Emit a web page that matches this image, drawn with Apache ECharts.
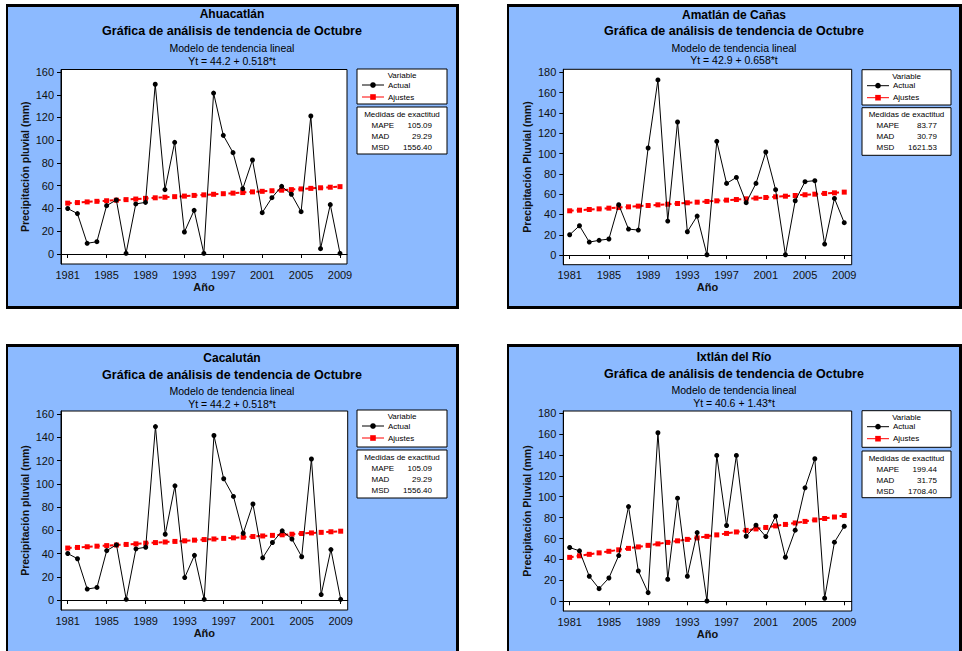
<!DOCTYPE html>
<html><head><meta charset="utf-8">
<script src="https://cdn.jsdelivr.net/npm/echarts@6/dist/echarts.min.js"></script>
<style>
html,body{margin:0;padding:0;background:#fff;width:962px;height:651px;overflow:hidden}
.panel{position:absolute;background:#8CBAFF;border-style:solid;border-color:#000;border-width:3px 3px 3px 2px;box-sizing:border-box}
#chart{position:absolute;left:0;top:0;width:962px;height:651px}
</style></head><body>
<div class="panel" style="left:6px;top:4px;width:453px;height:305px"></div>
<div class="panel" style="left:507px;top:4px;width:455px;height:305px"></div>
<div class="panel" style="left:6px;top:344px;width:453px;height:330px"></div>
<div class="panel" style="left:507px;top:344px;width:455px;height:330px"></div>
<div id="chart"></div>
<script>
// ---------- data ----------
const years = [1981,1982,1983,1984,1985,1986,1987,1988,1989,1990,1991,1992,1993,1994,1995,1996,1997,1998,1999,2000,2001,2002,2003,2004,2005,2006,2007,2008,2009];
const xTickYears = [1981,1985,1989,1993,1997,2001,2005,2009];
const yTicks160 = [0,20,40,60,80,100,120,140,160];
const yTicks180 = [0,20,40,60,80,100,120,140,160,180];

const stations = ['Ahuacatlán','Amatlán de Cañas','Cacalután','Ixtlán del Río'];
const mainTitle = 'Gráfica de análisis de tendencia de Octubre';
const modelTitle = 'Modelo de tendencia lineal';
const equations = ['Yt = 44.2 + 0.518*t','Yt = 42.9 + 0.658*t','Yt = 44.2 + 0.518*t','Yt = 40.6 + 1.43*t'];
const yAxisTitles = ['Precipitación pluvial (mm)','Precipitación Pluvial (mm)','Precipitación pluvial (mm)','Precipitación Pluvial (mm)'];
const xAxisTitle = 'Año';
const seriesNames = ['Actual','Ajustes'];
const legendTitle = 'Variable';
const measuresTitle = 'Medidas de exactitud';
const measureLabels = ['MAPE','MAD','MSD'];

const actualAhuacatlan = [40,35.5,9.4,10.8,42.5,47.5,0.6,44,45.4,149.2,56.6,98.2,19.3,38.4,0.6,141.5,104.3,89.1,57.4,82.6,36.3,49.5,59.5,52.5,37.2,121.3,4.7,43.4,0.6];
const fitAhuacatlan = [44.7,45.2,45.8,46.3,46.8,47.3,47.8,48.3,48.9,49.4,49.9,50.4,50.9,51.5,52.0,52.5,53.0,53.5,54.0,54.6,55.1,55.6,56.1,56.6,57.2,57.7,58.2,58.7,59.2];

const actualAmatlan = [20,28.9,12.8,14.5,15.8,49.6,25.6,24.6,105.5,172.5,33.5,131.1,23,38.4,0.3,112,70.6,76.5,51.6,70.6,101.5,64.4,0.3,53.5,72.3,73.3,10.8,55.8,31.9];
const fitAmatlan = [43.6,44.2,44.9,45.5,46.2,46.8,47.5,48.2,48.8,49.5,50.1,50.8,51.5,52.1,52.8,53.4,54.1,54.7,55.4,56.1,56.7,57.4,58.0,58.7,59.4,60.0,60.7,61.3,62.0];

const actualCacalutan = [40,35.5,9.4,10.8,42.5,47.5,0.6,44,45.4,149.2,56.6,98.2,19.3,38.4,0.6,141.5,104.3,89.1,57.4,82.6,36.3,49.5,59.5,52.5,37.2,121.3,4.7,43.4,0.6];
const fitCacalutan = [44.7,45.2,45.8,46.3,46.8,47.3,47.8,48.3,48.9,49.4,49.9,50.4,50.9,51.5,52.0,52.5,53.0,53.5,54.0,54.6,55.1,55.6,56.1,56.6,57.2,57.7,58.2,58.7,59.2];

const actualIxtlan = [51.4,48.2,23.9,12.1,22.3,43.7,90.6,29,8.3,161.2,21.1,98.6,23.9,65.7,0.3,139.5,72.5,139.5,62.2,72.8,61.9,81.4,42.1,68,108.5,136.3,2.9,56.5,71.8];
const fitIxtlan = [42.0,43.5,44.9,46.3,47.8,49.2,50.6,52.0,53.5,54.9,56.3,57.8,59.2,60.6,62.1,63.5,64.9,66.3,67.8,69.2,70.6,72.1,73.5,74.9,76.4,77.8,79.2,80.6,82.1];

const mapeValues = ['105.09','83.77','105.09','199.44'];
const madValues = ['29.29','30.79','29.29','31.75'];
const msdValues = ['1556.40','1621.53','1556.40','1708.40'];

const actualSets = [actualAhuacatlan, actualAmatlan, actualCacalutan, actualIxtlan];
const fitSets = [fitAhuacatlan, fitAmatlan, fitCacalutan, fitIxtlan];
const yTickSets = [yTicks160, yTicks180, yTicks160, yTicks180];

// ---------- layout (page pixels) ----------
const layout = [
  {grid:{left:61,top:69.5,width:286,height:194.5}, y:[-8.8,162.2], x:[1980.31,2009.72], cx:232, ty:[14,31,47.5,61], box:{x:357,y:69,w:90,h:35}, mbox:{y:107,h:47}},
  {grid:{left:563.3,top:69.3,width:288.4,height:195.4}, y:[-9.5,183], x:[1980.35,2009.76], cx:734, ty:[14.5,31,48,60], box:{x:862,y:69.7,w:89,h:35.3}, mbox:{y:107.7,h:47.6}},
  {grid:{left:61,top:411,width:286.7,height:199}, y:[-8.6,162.6], x:[1980.31,2009.72], cx:232, ty:[357.5,375,390.5,404], box:{x:357,y:410,w:90,h:37}, mbox:{y:450,h:48}},
  {grid:{left:563.3,top:411,width:288.4,height:200}, y:[-9.3,182], x:[1980.35,2009.76], cx:734, ty:[357,374,389.5,403], box:{x:862,y:410.7,w:89,h:36.6}, mbox:{y:451,h:46.7}}
];

const FONT = '"Liberation Sans", Arial, sans-serif';
const grids = [], xAxes = [], yAxes = [], series = [], legends = [], graphics = [];

layout.forEach((L, i) => {
  grids.push(Object.assign({show:true, backgroundColor:'#fff', borderColor:'#000', borderWidth:1}, L.grid));
  xAxes.push({
    type:'value', gridIndex:i, min:L.x[0], max:L.x[1],
    name:xAxisTitle, nameLocation:'middle', nameGap:17,
    nameTextStyle:{fontFamily:FONT, fontWeight:'bold', fontSize:11, color:'#111'},
    axisLine:{show:true, lineStyle:{color:'#000'}},
    axisTick:{show:true, inside:false, length:4, customValues:xTickYears, lineStyle:{color:'#000'}},
    axisLabel:{customValues:xTickYears, margin:5, fontFamily:FONT, fontSize:11, color:'#111', formatter:v => String(v)},
    splitLine:{show:false}
  });
  yAxes.push({
    type:'value', gridIndex:i, min:L.y[0], max:L.y[1],
    name:yAxisTitles[i], nameLocation:'middle', nameGap:31,
    nameTextStyle:{fontFamily:FONT, fontWeight:'bold', fontSize:10.5, color:'#111'},
    axisLine:{show:true, lineStyle:{color:'#000'}},
    axisTick:{show:true, inside:false, length:4, customValues:yTickSets[i], lineStyle:{color:'#000'}},
    axisLabel:{customValues:yTickSets[i], margin:7, fontFamily:FONT, fontSize:11, color:'#111', formatter:v => String(v)},
    splitLine:{show:false}
  });
  series.push({
    name:seriesNames[0], type:'line', xAxisIndex:i, yAxisIndex:i,
    data:years.map((yr, k) => [yr, actualSets[i][k]]),
    symbol:'circle', symbolSize:5, itemStyle:{color:'#000'},
    lineStyle:{color:'#000', width:1}, z:3
  });
  series.push({
    name:seriesNames[1], type:'line', xAxisIndex:i, yAxisIndex:i,
    data:years.map((yr, k) => [yr, fitSets[i][k]]),
    symbol:'rect', symbolSize:5, itemStyle:{color:'#ff0000'},
    lineStyle:{color:'#ff0000', width:2, type:[4,3]}, z:2
  });
  legends.push({
    data:[
      {name:seriesNames[0], lineStyle:{type:'solid', width:1, color:'#000'}},
      {name:seriesNames[1], lineStyle:{type:'solid', width:1, color:'#ff0000'}}
    ],
    orient:'vertical', left:L.box.x + 4.5, top:L.box.y + 12,
    itemWidth:22, itemHeight:7, itemGap:4, padding:0, selectedMode:false,
    textStyle:{fontFamily:FONT, fontSize:8, color:'#000', padding:[0,0,0,-1]}
  });
  // titles
  const tstyle = (txt, y, size, weight) => ({
    type:'text', x:L.cx, y:y, z:10,
    style:{text:txt, fontFamily:FONT, fontSize:size, fontWeight:weight, fill:'#000', align:'center', verticalAlign:'middle'}
  });
  graphics.push(tstyle(stations[i], L.ty[0], 12, 'bold'));
  graphics.push(tstyle(mainTitle, L.ty[1], 12.5, 'bold'));
  graphics.push(tstyle(modelTitle, L.ty[2], 10.5, 'normal'));
  graphics.push(tstyle(equations[i], L.ty[3], 10.5, 'normal'));
  // legend box
  graphics.push({type:'rect', z:1, shape:{x:L.box.x, y:L.box.y, width:L.box.w, height:L.box.h},
    style:{fill:'#fff', stroke:'#000', lineWidth:1}});
  graphics.push({type:'text', z:10, x:L.box.x + L.box.w/2, y:L.box.y + 6.5,
    style:{text:legendTitle, fontFamily:FONT, fontSize:8, fill:'#000', align:'center', verticalAlign:'middle'}});
  // measures box
  graphics.push({type:'rect', z:1, shape:{x:L.box.x, y:L.mbox.y, width:L.box.w, height:L.mbox.h},
    style:{fill:'#fff', stroke:'#000', lineWidth:1}});
  graphics.push({type:'text', z:10, x:L.box.x + L.box.w/2, y:L.mbox.y + 7,
    style:{text:measuresTitle, fontFamily:FONT, fontSize:8, fill:'#000', align:'center', verticalAlign:'middle'}});
  const vals = [mapeValues[i], madValues[i], msdValues[i]];
  measureLabels.forEach((lab, r) => {
    const yy = L.mbox.y + 18 + r * 11;
    graphics.push({type:'text', z:10, x:L.box.x + 14.5, y:yy,
      style:{text:lab, fontFamily:FONT, fontSize:8, fill:'#000', align:'left', verticalAlign:'middle'}});
    graphics.push({type:'text', z:10, x:L.box.x + 75, y:yy,
      style:{text:vals[r], fontFamily:FONT, fontSize:8, fill:'#000', align:'right', verticalAlign:'middle'}});
  });
});

const chart = echarts.init(document.getElementById('chart'), null, {renderer:'svg'});
chart.setOption({
  animation:false,
  backgroundColor:'transparent',
  grid:grids, xAxis:xAxes, yAxis:yAxes, series:series, legend:legends,
  graphic:{elements:graphics}
});
</script>
</body></html>
